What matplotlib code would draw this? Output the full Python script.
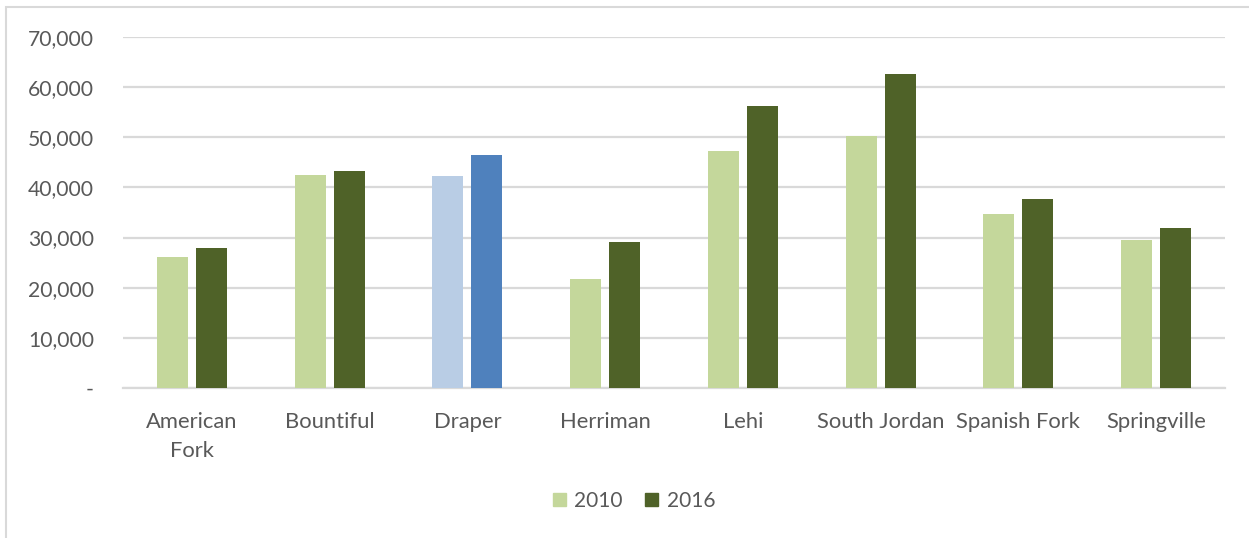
import numpy as np
import matplotlib.pyplot as plt
from matplotlib.patches import Rectangle
from matplotlib.ticker import FuncFormatter

cities = ['American\nFork', 'Bountiful', 'Draper', 'Herriman', 'Lehi',
          'South Jordan', 'Spanish Fork', 'Springville']
pop_2010 = [26100, 42400, 42200, 21700, 47300, 50300, 34700, 29500]
pop_2016 = [28000, 43300, 46400, 29100, 56300, 62600, 37700, 31900]
highlight = 'Draper'

light_green = '#C4D79B'
dark_green = '#4F6228'
light_blue = '#B9CDE5'
blue = '#4F81BD'
text_gray = '#595959'
grid_gray = '#D9D9D9'

plt.rcParams['font.family'] = ['Lato', 'DejaVu Sans']
fs = 15.8

fig = plt.figure(figsize=(12.49, 5.38), dpi=100)
ax = fig.add_axes([123 / 1249, 1 - 388 / 538, (1225 - 123) / 1249, (388 - 37) / 538])

x = np.arange(len(cities))
w = 0.225
off = 0.1415
c10 = [light_blue if c == highlight else light_green for c in cities]
c16 = [blue if c == highlight else dark_green for c in cities]
ax.bar(x - off, pop_2010, w, color=c10, zorder=3, label='2010')
ax.bar(x + off, pop_2016, w, color=c16, zorder=3, label='2016')

ax.set_xlim(-0.5, len(cities) - 0.5)
ax.set_ylim(0, 70000)
ax.set_yticks(np.arange(0, 70001, 10000))
ax.yaxis.set_major_formatter(FuncFormatter(lambda v, p: '-' if v == 0 else f'{int(v):,}'))
ax.set_xticks(x)
ax.set_xticklabels(cities, linespacing=1.6)
ax.grid(axis='y', color=grid_gray, lw=1.6, zorder=0)
for s in ['top', 'right', 'left']:
    ax.spines[s].set_visible(False)
ax.spines['bottom'].set_color(grid_gray)
ax.spines['bottom'].set_linewidth(1.6)
ax.tick_params(axis='both', length=0, labelsize=fs, colors=text_gray)
ax.tick_params(axis='x', pad=17)
ax.tick_params(axis='y', labelsize=15.2, pad=21)

# Legend
handles = [Rectangle((0, 0), 1, 1, color=light_green), Rectangle((0, 0), 1, 1, color=dark_green)]
fig.legend(handles, ['2010', '2016'], loc='center', bbox_to_anchor=(634 / 1249, 1 - 501 / 538),
           ncol=2, frameon=False, fontsize=15, handlelength=0.62, handleheight=0.62,
           handletextpad=0.4, columnspacing=1.1, labelcolor=text_gray)

# Chart border (cropped at right and bottom)
fig.patches.append(Rectangle((6 / 1249, -0.1), 1.2, 1 - 7 / 538 + 0.1, transform=fig.transFigure,
                             fill=False, edgecolor=grid_gray, lw=1.5))

fig.savefig('out.png', dpi=100)
